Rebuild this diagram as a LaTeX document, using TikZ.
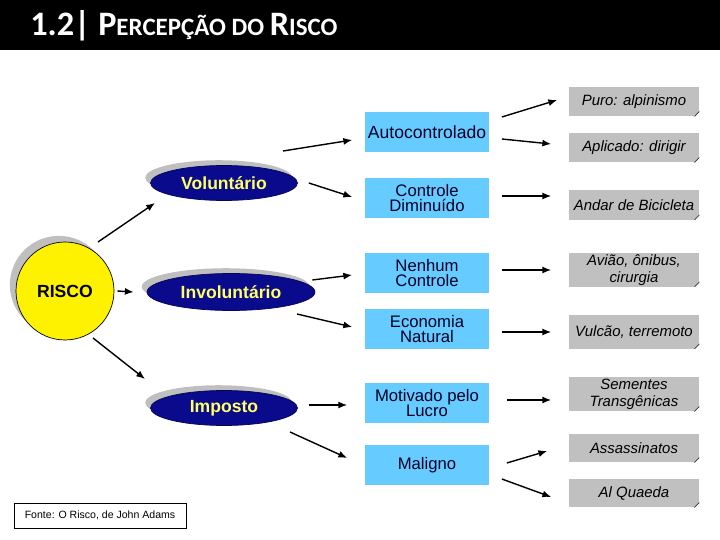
\documentclass[tikz,border=0pt]{standalone}
\usepackage{fontspec}
\setmainfont{Liberation Sans}
\newfontfamily\titlefont{Carlito}
\usetikzlibrary{arrows.meta,shadows,shapes.geometric}
\definecolor{navyfill}{RGB}{10,10,140}
\definecolor{labelyellow}{RGB}{255,255,102}
\definecolor{skyblue}{RGB}{102,204,255}
\definecolor{panelgray}{RGB}{192,192,192}

\begin{document}
\begin{tikzpicture}[x=0.02cm,y=-0.02cm,>=Latex,font=\small]
  \tikzset{
    riskball/.style={circle,draw=black,thin,fill=yellow,minimum size=1.96cm,inner sep=0pt,
      font=\fontsize{10}{12}\selectfont\bfseries,
      copy shadow={shadow xshift=-3.5pt,shadow yshift=3.5pt,fill=gray!50,draw=none}},
    kindoval/.style={ellipse,draw=navyfill!60!black,thin,fill=navyfill,text=labelyellow,inner sep=0pt,
      minimum width=2.94cm,minimum height=0.7cm,font=\fontsize{10}{12}\selectfont\bfseries,
      copy shadow={shadow xshift=-3pt,shadow yshift=3pt,fill=gray!50,draw=none}},
    ctrlbox/.style={rectangle,fill=skyblue,text=black!85!blue,minimum width=2.5cm,minimum height=0.8cm,
      inner sep=0pt,align=center,font=\fontsize{9.5}{9}\selectfont},
    casebox/.style={rectangle,fill=panelgray,minimum width=2.62cm,minimum height=0.58cm,
      inner sep=0pt,align=center,font=\fontsize{8.5}{9.5}\selectfont\itshape,
      path picture={
        \fill[white] ([shift={(-5,0)}]path picture bounding box.south east) -- ([shift={(0,-5)}]path picture bounding box.south east)
          -- (path picture bounding box.south east) -- cycle;
        \draw[gray!40!black,thin] ([shift={(-5,0)}]path picture bounding box.south east) -- ([shift={(0,-5)}]path picture bounding box.south east);}},
    link/.style={->,line width=0.8pt,>={Latex[length=5pt,width=4pt]}}
  }
  \useasboundingbox (0,0) rectangle (720,540);

  % title band
  \fill[black] (0,0) rectangle (720,50);
  \node[anchor=base west,inner sep=0pt,text=white,font=\titlefont\bfseries] (title) at (30,36)
    {\fontsize{19.5}{20}\selectfont 1.2| P\fontsize{14.2}{15}\selectfont ERCEPÇÃO DO \fontsize{19.5}{20}\selectfont R\fontsize{14.2}{15}\selectfont ISCO};

  % risk and its kinds
  \node[riskball] (risco) at (65,291) {RISCO};
  \node[kindoval] (volunt) at (224,183) {Voluntário};
  \node[kindoval,minimum width=3.36cm,minimum height=0.74cm] (invol) at (231,292) {Involuntário};
  \node[kindoval] (impost) at (224,408) {Imposto};

  % control
  \node[ctrlbox,font=\fontsize{10}{9}\selectfont] (autoc) at (427,132) {Autocontrolado};
  \node[ctrlbox] (contr) at (427,198) {Controle\\Diminuído};
  \node[ctrlbox] (nenhum) at (427,273) {Nenhum\\Controle};
  \node[ctrlbox] (econ) at (427,329) {Economia\\Natural};
  \node[ctrlbox] (motiv) at (427,403) {Motivado pelo\\Lucro};
  \node[ctrlbox] (malig) at (427,465) {Maligno};

  % examples
  \node[casebox] (puro) at (634,102) {Puro: alpinismo};
  \node[casebox] (aplic) at (634,148) {Aplicado: dirigir};
  \node[casebox,minimum height=0.6cm] (andar) at (634,205) {Andar de Bicicleta};
  \node[casebox,minimum height=0.68cm] (aviao) at (634,270) {Avião, ônibus,\\cirurgia};
  \node[casebox,minimum height=0.68cm] (vulcao) at (634,332) {Vulcão, terremoto};
  \node[casebox,minimum height=0.7cm] (sement) at (634,394) {Sementes\\Transgênicas};
  \node[casebox] (assass) at (634,448) {Assassinatos};
  \node[casebox] (alq) at (634,493) {Al Quaeda};

  \node[draw=black,thin,minimum width=3.44cm,minimum height=0.5cm,inner sep=0pt,font=\fontsize{6}{7}\selectfont] (fonte) at (100,515.5) {Fonte: O Risco, de John Adams};

  \draw[link] ([shift={(33,-49)}]risco.center) -- ([shift={(-69,20)}]volunt.center);
  \draw[link] ([shift={(3,0)}]risco.east) -- ([shift={(-13,0)}]invol.west);
  \draw[link] ([shift={(28,47)}]risco.center) -- ([shift={(-79,-29)}]impost.center);

  \draw[link] ([shift={(59,-32)}]volunt.center) -- ([shift={(-12,8)}]autoc.west);
  \draw[link] ([shift={(11,0)}]volunt.east) -- ([shift={(-12,-1)}]contr.west);
  \draw[link] ([shift={(-3,-12)}]invol.east) -- ([shift={(-12,2)}]nenhum.west);
  \draw[link] ([shift={(66,22)}]invol.center) -- ([shift={(-12,-2)}]econ.west);
  \draw[link] ([shift={(11,-3)}]impost.east) -- ([shift={(-17,2)}]motiv.west);
  \draw[link] ([shift={(66,24)}]impost.center) -- ([shift={(-17,-7)}]malig.west);

  \draw[link] ([shift={(12,-15)}]autoc.east) -- ([shift={(-11,-2)}]puro.west);
  \draw[link] ([shift={(12,7)}]autoc.east) -- ([shift={(-17,-4)}]aplic.west);
  \draw[link] ([shift={(12,-2)}]contr.east) -- ([shift={(-17,-9)}]andar.west);
  \draw[link] ([shift={(12,-3)}]nenhum.east) -- ([shift={(-17,0)}]aviao.west);
  \draw[link] ([shift={(12,3)}]econ.east) -- ([shift={(-17,0)}]vulcao.west);
  \draw[link] ([shift={(17,-3)}]motiv.east) -- ([shift={(-17,6)}]sement.west);
  \draw[link] ([shift={(17,-2)}]malig.east) -- ([shift={(-21,3)}]assass.west);
  \draw[link] ([shift={(12,14)}]malig.east) -- ([shift={(-17,4)}]alq.west);
\end{tikzpicture}
\end{document}
